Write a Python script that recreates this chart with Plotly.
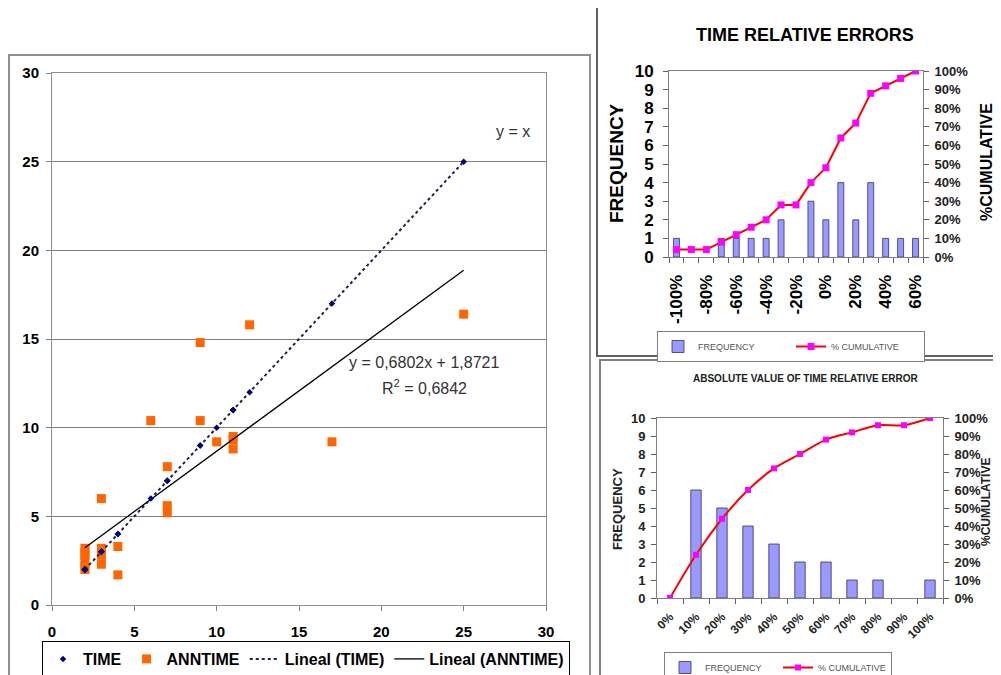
import plotly.graph_objects as go

# ---------------- data: scatter (left) ----------------
time_x = [2, 2, 2, 2, 2, 2, 3, 3, 3, 3, 4, 4, 6, 7, 7, 7, 9, 9, 10, 11, 11, 11, 12, 17, 25]
anntime_y = [2.0, 2.2, 2.5, 2.8, 3.0, 3.2, 6.0, 3.2, 2.8, 2.3, 3.3, 1.7, 10.4, 7.8, 5.6, 5.2,
             14.8, 10.4, 9.2, 9.5, 9.3, 8.8, 15.8, 9.2, 16.4]
time_trend_slope = 1.0
time_trend_intercept = 0.0
ann_trend_slope = 0.6802
ann_trend_intercept = 1.8721
ann_trend_r2 = 0.6842

# ---------------- data: relative error histogram (top right) ----------------
rel_labels = ["-100%", "-90%", "-80%", "-70%", "-60%", "-50%", "-40%", "-30%", "-20%",
              "-10%", "0%", "10%", "20%", "30%", "40%", "50%", "60%"]
rel_freq = [1, 0, 0, 1, 1, 1, 1, 2, 0, 3, 2, 4, 2, 4, 1, 1, 1]
rel_cum = [0.04, 0.04, 0.04, 0.08, 0.12, 0.16, 0.20, 0.28, 0.28, 0.40, 0.48, 0.64, 0.72,
           0.88, 0.92, 0.96, 1.00]

# ---------------- data: absolute error histogram (bottom right) ----------------
abs_labels = ["0%", "10%", "20%", "30%", "40%", "50%", "60%", "70%", "80%", "90%", "100%"]
abs_freq = [0, 6, 5, 4, 3, 2, 2, 1, 1, 0, 1]
abs_cum = [0.00, 0.24, 0.44, 0.60, 0.72, 0.80, 0.88, 0.92, 0.96, 0.96, 1.00]

W, H = 1001, 675
OFF = 8  # page body margin compensation
FONT = "Liberation Sans, Arial, sans-serif"


def px(x):
    return (x - OFF) / W


def py(y):
    return 1 - (y - OFF) / H


def fmt(v):
    return f"{v:.4f}".replace(".", ",")


def nz(values):
    # empty bins are not drawn (no zero-height outline)
    return [v if v else None for v in values]


rel_pos = list(range(len(rel_labels)))
abs_pos = list(range(len(abs_labels)))

fig = go.Figure()

# ----- left scatter -----
xmin, xmax = min(time_x), max(time_x)
fig.add_trace(go.Scatter(x=time_x, y=anntime_y, mode="markers", name="ANNTIME",
                         marker=dict(symbol="square", size=9, color="#FF6600"),
                         xaxis="x", yaxis="y", legend="legend", legendrank=2))
fig.add_trace(go.Scatter(x=[xmin, xmax],
                         y=[time_trend_slope * xmin + time_trend_intercept,
                            time_trend_slope * xmax + time_trend_intercept],
                         mode="lines", name="Lineal (TIME)",
                         line=dict(color="#202050", width=2, dash="dot"),
                         xaxis="x", yaxis="y", legend="legend", legendrank=3))
fig.add_trace(go.Scatter(x=[xmin, xmax],
                         y=[ann_trend_slope * xmin + ann_trend_intercept,
                            ann_trend_slope * xmax + ann_trend_intercept],
                         mode="lines", name="Lineal (ANNTIME)",
                         line=dict(color="#000000", width=1.3),
                         xaxis="x", yaxis="y", legend="legend", legendrank=4))
fig.add_trace(go.Scatter(x=time_x, y=time_x, mode="markers", name="TIME",
                         marker=dict(symbol="diamond", size=5, color="#000080"),
                         xaxis="x", yaxis="y", legend="legend", legendrank=1))

# ----- top right -----
BAR_FILL = "#9999FF"
BAR_LINE = "#333366"
fig.add_trace(go.Bar(x=rel_pos, y=nz(rel_freq), name="FREQUENCY", width=0.4,
                     marker=dict(color=BAR_FILL, line=dict(color=BAR_LINE, width=0.8)),
                     xaxis="x2", yaxis="y2", legend="legend2"))
fig.add_trace(go.Scatter(x=rel_pos, y=rel_cum, name="% CUMULATIVE", mode="lines+markers",
                         line=dict(color="#FF0000", width=2),
                         marker=dict(symbol="square", size=7, color="#FF00FF"),
                         xaxis="x2", yaxis="y3", legend="legend2"))

# ----- bottom right -----
fig.add_trace(go.Bar(x=abs_pos, y=nz(abs_freq), name="FREQUENCY", width=0.4,
                     marker=dict(color=BAR_FILL, line=dict(color=BAR_LINE, width=0.8)),
                     xaxis="x3", yaxis="y4", legend="legend3"))
fig.add_trace(go.Scatter(x=abs_pos, y=abs_cum, name="% CUMULATIVE", mode="lines+markers",
                         line=dict(color="#FF0000", width=2, shape="spline", smoothing=0.8),
                         marker=dict(symbol="square", size=6, color="#FF00FF"),
                         xaxis="x3", yaxis="y5", legend="legend3"))


def bold(s, c="#000"):
    return dict(family=FONT, size=s, color=c, weight="bold")


common = dict(automargin=False, zeroline=False, showgrid=False, showline=True)

layout = dict(
    width=W, height=H, margin=dict(l=0, r=0, t=0, b=0, autoexpand=False),
    paper_bgcolor="white", plot_bgcolor="white",
    font=dict(family=FONT, color="#000"),
    barmode="overlay",
    # left
    xaxis=dict(common, domain=[px(52), px(546)], anchor="y", range=[0, 30], dtick=5,
               ticks="outside", ticklen=5, tickcolor="#808080",
               linecolor="#909090", linewidth=1, mirror=True,
               tickfont=bold(15), ticklabelstandoff=8),
    yaxis=dict(common, domain=[py(605), py(73)], anchor="x", range=[0, 30], dtick=5,
               ticks="outside", ticklen=5, tickcolor="#808080",
               linecolor="#909090", linewidth=1, mirror=True, showgrid=True,
               gridcolor="#808080", gridwidth=1, tickfont=bold(15),
               ticklabelstandoff=4),
    # top right
    xaxis2=dict(common, domain=[px(669), px(923)], anchor="y2",
                range=[-0.5, len(rel_labels) - 0.5],
                tickmode="array", tickvals=rel_pos[::2], ticktext=rel_labels[::2],
                tickangle=-90, ticks="",
                minor=dict(tickmode="array",
                           tickvals=[p - 0.5 for p in rel_pos] + [rel_pos[-1] + 0.5],
                           ticks="outside", ticklen=5, tickcolor="#606060"),
                linecolor="#808080", mirror=True,
                tickfont=bold(17), ticklabelstandoff=10),
    yaxis2=dict(common, domain=[py(257), py(71)], anchor="x2", range=[0, 10], dtick=1,
                ticks="outside", ticklen=5, tickcolor="#606060",
                linecolor="#808080", tickfont=bold(17), ticklabelstandoff=6),
    yaxis3=dict(common, overlaying="y2", side="right", anchor="x2", range=[0, 1], dtick=0.1,
                tickformat=".0%", ticks="outside", ticklen=5, tickcolor="#606060",
                linecolor="#808080", tickfont=bold(13, "#222"), ticklabelstandoff=3),
    # bottom right
    xaxis3=dict(common, domain=[px(657), px(943)], anchor="y4",
                range=[-0.5, len(abs_labels) - 0.5],
                tickmode="array", tickvals=abs_pos, ticktext=abs_labels,
                tickangle=-45, ticks="",
                minor=dict(tickmode="array",
                           tickvals=[p - 0.5 for p in abs_pos] + [abs_pos[-1] + 0.5],
                           ticks="outside", ticklen=5, tickcolor="#606060"),
                linecolor="#808080", mirror=True,
                tickfont=bold(12, "#222"), ticklabelstandoff=6),
    yaxis4=dict(common, domain=[py(598), py(418)], anchor="x3", range=[0, 10], dtick=1,
                ticks="outside", ticklen=5, tickcolor="#606060",
                linecolor="#808080", tickfont=bold(13, "#222"), ticklabelstandoff=3),
    yaxis5=dict(common, overlaying="y4", side="right", anchor="x3", range=[0, 1], dtick=0.1,
                tickformat=".0%", ticks="outside", ticklen=5, tickcolor="#606060",
                linecolor="#808080", tickfont=bold(13, "#222"), ticklabelstandoff=3),
    legend=dict(x=px(42), y=py(641), xanchor="left", yanchor="top", orientation="h",
                bgcolor="white", bordercolor="#000", borderwidth=1,
                font=bold(16), tracegroupgap=0),
    legend2=dict(x=px(657), y=py(331), xanchor="left", yanchor="top", orientation="h",
                 bgcolor="white", bordercolor="#808080", borderwidth=1,
                 font=dict(family=FONT, size=9, color="#555"), entrywidth=88),
    legend3=dict(x=px(664), y=py(652), xanchor="left", yanchor="top", orientation="h",
                 bgcolor="white", bordercolor="#808080", borderwidth=1,
                 font=dict(family=FONT, size=9, color="#555"), entrywidth=68),
)
fig.update_layout(**layout)

annotations = [
    dict(x=28, y=26.7, xref="x", yref="y", text="y = x", showarrow=False,
         font=dict(family=FONT, size=16, color="#333")),
    dict(x=22.6, y=13.7, xref="x", yref="y",
         text=f"y = {fmt(ann_trend_slope)}x + {fmt(ann_trend_intercept)}", showarrow=False,
         font=dict(family=FONT, size=16, color="#333")),
    dict(x=22.6, y=12.3, xref="x", yref="y",
         text=f"R<sup>2</sup> = {fmt(ann_trend_r2)}", showarrow=False,
         font=dict(family=FONT, size=16, color="#333")),
    dict(x=px(805), y=py(35), xref="paper", yref="paper", text="TIME RELATIVE ERRORS",
         showarrow=False, font=bold(18)),
    dict(x=px(616), y=py(163), xref="paper", yref="paper", text="FREQUENCY",
         textangle=-90, showarrow=False, font=bold(19)),
    dict(x=px(986), y=py(162), xref="paper", yref="paper", text="%CUMULATIVE",
         textangle=-90, showarrow=False, font=bold(16)),
    dict(x=px(805), y=py(379), xref="paper", yref="paper",
         text="ABSOLUTE VALUE OF TIME RELATIVE ERROR", showarrow=False,
         font=bold(10, "#222")),
    dict(x=px(617), y=py(509), xref="paper", yref="paper", text="FREQUENCY",
         textangle=-90, showarrow=False, font=bold(13, "#222")),
    dict(x=px(986), y=py(502), xref="paper", yref="paper", text="%CUMULATIVE",
         textangle=-90, showarrow=False, font=bold(12, "#222")),
]
for a in annotations:
    a["xanchor"] = "center"
    a["yanchor"] = "middle"
fig.update_layout(annotations=annotations)

shapes = [
    dict(type="rect", xref="paper", yref="paper", x0=px(9), x1=px(590), y0=py(700),
         y1=py(55), line=dict(color="#909090", width=2), layer="below"),
    dict(type="rect", xref="paper", yref="paper", x0=px(597), x1=px(1010), y0=py(356),
         y1=py(7), line=dict(color="#606060", width=2), layer="below"),
    dict(type="rect", xref="paper", yref="paper", x0=px(600), x1=px(1010), y0=py(700),
         y1=py(360), line=dict(color="#808080", width=2), layer="below"),
]
fig.update_layout(shapes=shapes)

fig.write_html("out.html")
